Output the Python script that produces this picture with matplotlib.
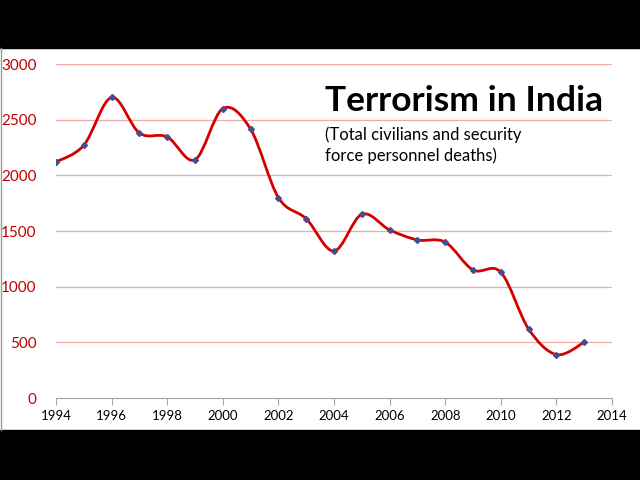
import numpy as np
import matplotlib
matplotlib.use("Agg")
import matplotlib.pyplot as plt
from matplotlib.path import Path
from matplotlib.patches import PathPatch, Rectangle
from matplotlib.lines import Line2D

years = [1994, 1995, 1996, 1997, 1998, 1999, 2000, 2001, 2002, 2003,
         2004, 2005, 2006, 2007, 2008, 2009, 2010, 2011, 2012, 2013]
deaths = [2120, 2270, 2700, 2380, 2345, 2140, 2600, 2415, 1800, 1610,
          1320, 1650, 1510, 1420, 1400, 1150, 1130, 620, 390, 500]
x_ticks = list(range(1994, 2015, 2))
y_ticks = [0, 500, 1000, 1500, 2000, 2500, 3000]

plt.rcParams["font.family"] = ["Lato", "DejaVu Sans"]

fig = plt.figure(figsize=(6.4, 4.8), dpi=100)
fig.patch.set_facecolor("white")
# black letterbox bands
fig.add_artist(Rectangle((0, 0.9), 1, 0.1, transform=fig.transFigure, color="black", zorder=0))
fig.add_artist(Rectangle((0, 0), 1, 50 / 480, transform=fig.transFigure, color="black", zorder=0))
fig.add_artist(Line2D([0.002, 0.002], [50 / 480, 0.9], transform=fig.transFigure, color="#999999", lw=1))

ax = fig.add_axes([56 / 640, 1 - 398 / 480, 556 / 640, 334 / 480])
ax.set_xlim(1994, 2014)
ax.set_ylim(0, 3000)

# smoothed line (Excel-style cubic Bezier through the points)
pts = np.column_stack([years, deaths]).astype(float)
verts = [pts[0]]
codes = [Path.MOVETO]
n = len(pts)
for i in range(n - 1):
    p0 = pts[i - 1] if i > 0 else pts[i]
    p1, p2 = pts[i], pts[i + 1]
    p3 = pts[i + 2] if i + 2 < n else pts[i + 1]
    verts += [p1 + (p2 - p0) / 6, p2 - (p3 - p1) / 6, p2]
    codes += [Path.CURVE4] * 3
ax.add_patch(PathPatch(Path(verts, codes), fill=False, edgecolor="#d40000", lw=2.0, zorder=3))
ax.plot(years, deaths, ls="none", marker="D", ms=3, color="#4b4b8c", zorder=4)

for y in y_ticks[1:]:
    ax.axhline(y, color="#f0aaaa", lw=0.9, zorder=1)

for s in ["top", "right", "left"]:
    ax.spines[s].set_visible(False)
ax.spines["bottom"].set_color("#a6a6a6")
ax.set_xticks(x_ticks)
ax.set_yticks(y_ticks)
ax.tick_params(axis="x", colors="#a6a6a6", labelcolor="black", labelsize=9.5, length=5, direction="out")
ax.tick_params(axis="y", length=0, labelcolor="#c00000", labelsize=11, pad=14)

fig.text(325 / 640, 1 - 111 / 480, "Terrorism in India", fontsize=25.5, fontweight="bold",
         color="black", ha="left", va="baseline")
fig.text(325 / 640, 1 - 161 / 480, "(Total civilians and security\nforce personnel deaths)",
         fontsize=12, color="black", ha="left", va="baseline", linespacing=1.35)

fig.savefig("out.png", dpi=100, facecolor="white")
